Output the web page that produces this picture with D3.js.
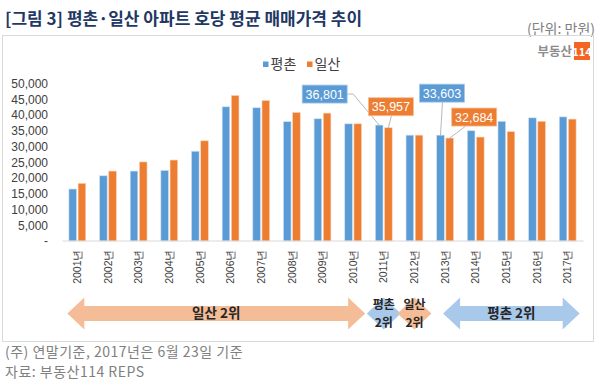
<!DOCTYPE html>
<meta charset="utf-8">
<style>
body { margin: 0; background: #fff; }
svg { display: block; font-family: "Noto Sans CJK KR", "Noto Sans", sans-serif; }
.tick text { fill: #404040; }
</style>
<svg width="600" height="384"></svg>
<script src="https://cdn.jsdelivr.net/npm/d3@7"></script>
<script>

// data (만원)
var years = ["2001년", "2002년", "2003년", "2004년", "2005년", "2006년", "2007년", "2008년", "2009년",
             "2010년", "2011년", "2012년", "2013년", "2014년", "2015년", "2016년", "2017년"];
var pyeongchon = [16500, 20700, 22200, 22400, 28500, 42600, 42300, 37900, 38800,
                  37200, 36801, 33600, 33603, 35000, 38000, 39100, 39400];
var ilsan = [18300, 22200, 25100, 25700, 31800, 46200, 44600, 40800, 40600,
             37200, 35957, 33600, 32684, 33000, 34700, 38000, 38700];
var seriesNames = ["평촌", "일산"];
var yTicks = [0, 5000, 10000, 15000, 20000, 25000, 30000, 35000, 40000, 45000, 50000];

// labelled points: series index, year, box offset from bar top
var callouts = [
  { s: 0, year: "2011년", dx: -77, dy: -40, side: "right" },
  { s: 1, year: "2011년", dx: -20, dy: -12, side: "bottom", lx: 3 },
  { s: 0, year: "2013년", dx: -21, dy: -33, side: "bottom", lx: 2 },
  { s: 1, year: "2013년", dx: 2, dy: -12, side: "bottom", lx: 16 }
];

// rank arrows under the axis
var ranks = [
  { text: ["일산 2위"], from: "2001년", to: "2010년", s: 1 },
  { text: ["평촌", "2위"], from: "2011년", to: "2011년", s: 0 },
  { text: ["일산", "2위"], from: "2012년", to: "2012년", s: 1 },
  { text: ["평촌 2위"], from: "2013년", to: "2017년", s: 0 }
];

var colors = ["#5b9bd5", "#ed7d31"];
var lightColors = ["#a9c9ea", "#f5bd97"];

var svg = d3.select("svg");

// title + unit
svg.append("text")
    .attr("x", 5).attr("y", 25)
    .attr("font-size", 17).attr("font-weight", "bold")
    .attr("fill", "#1f3864")
    .text("[그림 3] 평촌·일산 아파트 호당 평균 매매가격 추이");

svg.append("text")
    .attr("x", 595).attr("y", 34)
    .attr("text-anchor", "end")
    .attr("font-size", 14).attr("fill", "#808080")
    .text("(단위: 만원)");

// frame
svg.append("rect")
    .attr("x", 2.5).attr("y", 35.5)
    .attr("width", 591).attr("height", 306)
    .attr("fill", "none").attr("stroke", "#d9d9d9");

// logo
svg.append("text")
    .attr("x", 572).attr("y", 56)
    .attr("text-anchor", "end")
    .attr("font-size", 12.5).attr("font-weight", "bold")
    .attr("fill", "#8c8c8c")
    .text("부동산");
svg.append("rect")
    .attr("x", 574).attr("y", 42).attr("width", 16).attr("height", 18)
    .attr("fill", "#f26522");
svg.append("text")
    .attr("x", 582).attr("y", 56)
    .attr("text-anchor", "middle")
    .attr("font-size", 11).attr("font-weight", "bold")
    .attr("fill", "#fff")
    .text("114");

// legend
var legend = svg.append("g").attr("transform", "translate(263,0)");
seriesNames.forEach(function(name, i) {
  var lg = legend.append("g").attr("transform", "translate(" + (i * 44) + ",0)");
  lg.append("rect").attr("x", 0).attr("y", 61.5).attr("width", 5.5).attr("height", 5.5).attr("fill", colors[i]);
  lg.append("text").attr("x", 7.5).attr("y", 69)
    .attr("font-size", 14).attr("fill", "#404040").text(name);
});

// scales
var x = d3.scaleBand().domain(years).range([62, 583]);
var y = d3.scaleLinear().domain([0, 50000]).range([241, 83.5]);
var barW = 7.6, gap = 1.6;

function barX(year, s) {
  var c = x(year) + x.bandwidth() / 2;
  return s === 0 ? c - gap / 2 - barW : c + gap / 2;
}

// y axis (labels only)
var yAxis = svg.append("g")
    .attr("transform", "translate(62,0)")
    .call(d3.axisLeft(y).tickValues(yTicks).tickSize(0).tickPadding(14)
      .tickFormat(function(d) { return d === 0 ? "-" : d3.format(",")(d); }));
yAxis.select(".domain").remove();
yAxis.selectAll("text").attr("font-size", 12).attr("font-family", "Liberation Sans, Arial, sans-serif");

// bars
[pyeongchon, ilsan].forEach(function(vals, s) {
  svg.append("g").selectAll("rect")
    .data(vals)
    .enter().append("rect")
      .attr("x", function(d, i) { return barX(years[i], s); })
      .attr("y", function(d) { return y(d); })
      .attr("width", barW)
      .attr("height", function(d) { return y(0) - y(d); })
      .attr("fill", colors[s])
      .attr("stroke", s === 0 ? "#cfe0f1" : "#f9d3b8")
      .attr("stroke-width", 0.6);
});

// x axis
var xAxis = svg.append("g")
    .attr("transform", "translate(0,240.5)")
    .call(d3.axisBottom(x).tickSize(0).tickPadding(0));
xAxis.select(".domain").attr("stroke", "#d9d9d9");
xAxis.selectAll("text")
    .attr("font-size", 10.5)
    .attr("transform", "rotate(-90)")
    .attr("text-anchor", "end")
    .attr("x", -9)
    .attr("y", 0)
    .attr("dy", "0.35em");

// callouts
callouts.forEach(function(c) {
  var vals = c.s === 0 ? pyeongchon : ilsan;
  var i = years.indexOf(c.year);
  var v = vals[i];
  var bx = barX(c.year, c.s) + barW / 2, by = y(v);
  var w = 45, h = 18;
  var rx = bx + c.dx, ry = by + c.dy - h;
  var pts;
  if (c.side === "right") {
    ry = by + c.dy;
    pts = [[rx + w, ry + h / 2], [rx + w + 6, ry + h / 2], [bx, by]];
  } else {
    pts = [[bx + c.lx, ry + h], [bx, by]];
  }
  svg.append("polyline")
    .attr("points", pts.map(function(p) { return p.join(","); }).join(" "))
    .attr("fill", "none").attr("stroke", "#a6a6a6").attr("stroke-width", 0.8);
  svg.append("rect")
    .attr("x", rx).attr("y", ry).attr("width", w).attr("height", h)
    .attr("fill", colors[c.s]).attr("stroke", lightColors[c.s]).attr("stroke-width", 0.8);
  svg.append("text")
    .attr("x", rx + w / 2).attr("y", ry + h / 2)
    .attr("dy", "0.36em").attr("text-anchor", "middle")
    .attr("font-size", 12.5).attr("fill", "#fff")
    .attr("font-family", "Liberation Sans, Arial, sans-serif")
    .text(d3.format(",")(v));
});

// rank arrows
var yc = 313.5, headH = 16, shaftH = 7.5, headW = 17;
ranks.forEach(function(r) {
  var x0 = x(r.from) + x.bandwidth() / 2, x1 = x(r.to) + x.bandwidth() / 2;
  var pad = 16;
  if (r.from === r.to) { x0 -= pad + 1; x1 += pad + 1; }
  else { x0 -= (r.s === 1 ? 10 : 2); x1 += 12; }
  var hw = Math.min(headW, (x1 - x0) / 2);
  var pts = [[x0, yc], [x0 + hw, yc - headH], [x0 + hw, yc - shaftH], [x1 - hw, yc - shaftH],
             [x1 - hw, yc - headH], [x1, yc], [x1 - hw, yc + headH], [x1 - hw, yc + shaftH],
             [x0 + hw, yc + shaftH], [x0 + hw, yc + headH]];
  svg.append("polygon")
    .attr("points", pts.map(function(p) { return p.join(","); }).join(" "))
    .attr("fill", lightColors[r.s]);
  var cx = (x0 + x1) / 2;
  if (r.text.length === 1) {
    svg.append("text").attr("x", cx).attr("y", yc).attr("dy", "0.35em")
      .attr("text-anchor", "middle").attr("font-size", 13.5).attr("font-weight", "bold")
      .attr("fill", "#262626").text(r.text[0]);
  } else {
    r.text.forEach(function(t, k) {
      svg.append("text").attr("x", cx).attr("y", yc - 9 + k * 18).attr("dy", "0.35em")
        .attr("text-anchor", "middle").attr("font-size", 12).attr("font-weight", "bold")
        .attr("fill", "#262626").text(t);
    });
  }
});

// notes
svg.append("text").attr("x", 5).attr("y", 357)
  .attr("font-size", 14).attr("letter-spacing", 0.5).attr("fill", "#808080")
  .text("(주) 연말기준, 2017년은 6월 23일 기준");
svg.append("text").attr("x", 5).attr("y", 377)
  .attr("font-size", 14).attr("letter-spacing", 0.5).attr("fill", "#808080")
  .text("자료: 부동산114 REPS");

</script>
